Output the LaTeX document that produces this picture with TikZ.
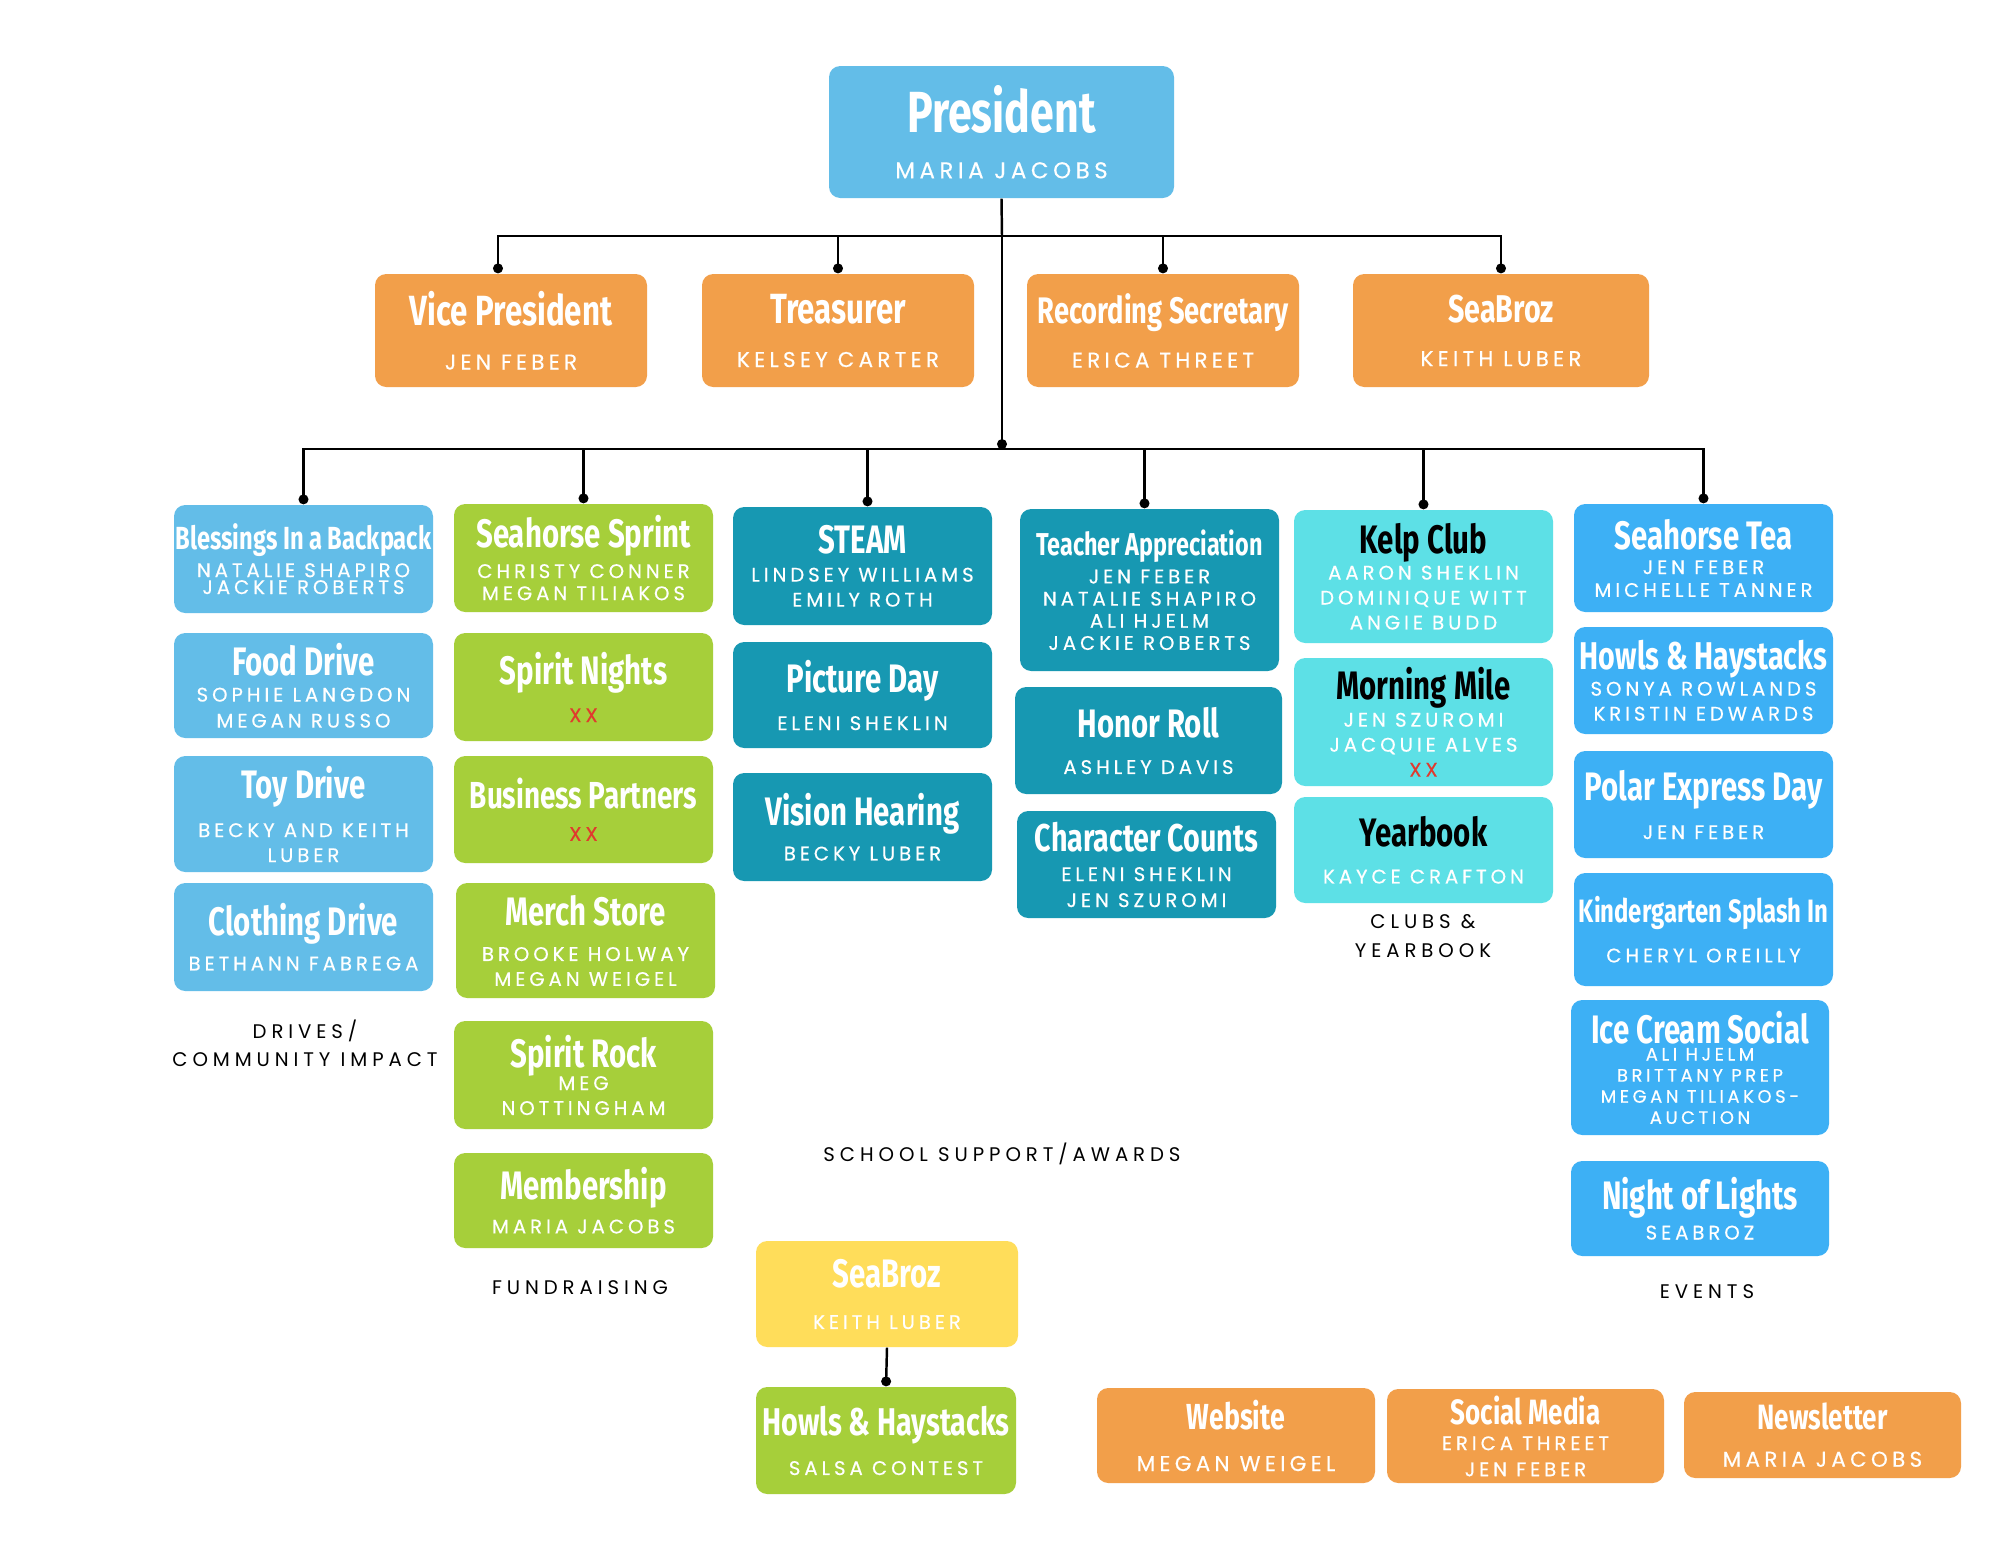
\documentclass[tikz,border=0pt]{standalone}
\usepackage{fontspec}
\usetikzlibrary{arrows.meta}
\newfontfamily\titlefont[FakeStretch=0.74]{Fira Sans}
\newfontfamily\namefont[LetterSpace=20, FakeBold=0.4]{Poppins}
\newfontfamily\labfont[LetterSpace=25]{Poppins}
\definecolor{presblue}{HTML}{63BDE8}
\definecolor{offorange}{HTML}{F29F4A}
\definecolor{drivesblue}{HTML}{63BDE8}
\definecolor{fundgreen}{HTML}{A6CF3A}
\definecolor{schoolteal}{HTML}{1798B2}
\definecolor{clubcyan}{HTML}{5DE0E6}
\definecolor{eventblue}{HTML}{3DB0F5}
\definecolor{broyellow}{HTML}{FFDD5A}
\definecolor{xxred}{HTML}{E03A2E}
\newcommand{\ttl}[2][11.3]{{\titlefont\bfseries\fontsize{#1}{#1}\selectfont #2}}
\newcommand{\xx}{\textcolor{xxred}{XX}}
\tikzset{
  card/.style={rounded corners=3.2pt, inner sep=0pt, align=center, text=white,
    font=\namefont\fontsize{5.6}{6.5}\selectfont},
  namelead/.style={font=\namefont\fontsize{5.6}{#1}\selectfont},
  boxsize/.style 2 args={minimum width=#1*0.01cm, minimum height=#2*0.01cm},
  presbox/.style={card, fill=presblue},
  officer/.style={card, fill=offorange, font=\namefont\fontsize{6.1}{6.5}\selectfont},
  drivebox/.style={card, fill=drivesblue},
  fundbox/.style={card, fill=fundgreen},
  schoolbox/.style={card, fill=schoolteal},
  clubbox/.style={card, fill=clubcyan},
  eventbox/.style={card, fill=eventblue},
  brobox/.style={card, fill=broyellow},
  conn/.style={line width=0.7pt, -{Circle[length=2.8pt]}},
  grouplabel/.style={align=center, inner sep=0pt, font=\labfont\fontsize{5.6}{8.1}\selectfont}
}
\begin{document}
\begin{tikzpicture}[x=0.01cm, y=-0.01cm]
%%%%% START %%%%%
\fill[white] (0,0) rectangle (1999,1545);

% board
\node[presbox, boxsize={345}{132}] (pres) at (1001.5,132) {\ttl[16.5]{President}\\[6.5pt] {\fontsize{6.5}{8}\selectfont MARIA JACOBS}};
\node[officer, boxsize={272}{113}] (vp) at (511,330.5) {\ttl[12]{Vice President}\\[6pt] JEN FEBER};
\node[officer, boxsize={272}{113}] (treas) at (838,330.5) {\ttl[12]{Treasurer}\\[6pt] KELSEY CARTER};
\node[officer, boxsize={272}{113}] (recsec) at (1163,330.5) {\ttl[10.5]{Recording Secretary}\\[5pt] ERICA THREET};
\node[officer, boxsize={296}{113}] (seabroz) at (1501,330.5) {\ttl[11]{SeaBroz}\\[6pt] KEITH LUBER};

% drives / community impact
\node[drivebox, boxsize={259}{108}, namelead=4.8] (blessings) at (303.5,559) {\ttl[9.1]{Blessings In a Backpack}\\[0.8pt] NATALIE SHAPIRO\\ JACKIE ROBERTS};
\node[drivebox, boxsize={259}{105}, namelead=7.4] (food) at (303.5,685.5) {\ttl{Food Drive}\\ SOPHIE LANGDON\\ MEGAN RUSSO};
\node[drivebox, boxsize={259}{116}, namelead=7.1] (toy) at (303.5,814) {\ttl{Toy Drive}\\[4pt] BECKY AND KEITH\\ LUBER};
\node[drivebox, boxsize={259}{108}] (clothing) at (303.5,937) {\ttl{Clothing Drive}\\[3.4pt] BETHANN FABREGA};
\node[grouplabel] (drivelab) at (305,1043.5) {DRIVES/\\ COMMUNITY IMPACT};

% fundraising
\node[fundbox, boxsize={259}{108}, namelead=6.3] (sprint) at (583.5,558) {\ttl{Seahorse Sprint}\\[1.1pt] CHRISTY CONNER\\ MEGAN TILIAKOS};
\node[fundbox, boxsize={259}{108}] (nights) at (583.5,687) {\ttl{Spirit Nights}\\[4.3pt] \xx};
\node[fundbox, boxsize={259}{107}] (partners) at (583.5,809.5) {\ttl[10.7]{Business Partners}\\[2.6pt] \xx};
\node[fundbox, boxsize={259}{115}, namelead=7.1] (merch) at (585.5,940.5) {\ttl{Merch Store}\\[3.1pt] BROOKE HOLWAY\\ MEGAN WEIGEL};
\node[fundbox, boxsize={259}{108}, namelead=7.1] (rock) at (583.5,1075) {\ttl{Spirit Rock}\\[-0.6pt] MEG\\ NOTTINGHAM};
\node[fundbox, boxsize={259}{95}] (member) at (583.5,1200.5) {\ttl{Membership}\\[3.1pt] MARIA JACOBS};
\node[grouplabel] (fundlab) at (580,1288) {FUNDRAISING};

% school support / awards
\node[schoolbox, boxsize={259}{118}, namelead=7.1] (steam) at (862.5,566) {\ttl{STEAM}\\[0.9pt] LINDSEY WILLIAMS\\ EMILY ROTH};
\node[schoolbox, boxsize={259}{106}] (picture) at (862.5,695) {\ttl{Picture Day}\\[4.3pt] ELENI SHEKLIN};
\node[schoolbox, boxsize={259}{108}] (vision) at (862.5,827) {\ttl{Vision Hearing}\\[3.4pt] BECKY LUBER};
\node[schoolbox, boxsize={259}{162}, namelead=6.3] (teachers) at (1149.5,590) {\ttl[9]{Teacher Appreciation}\\[1.6pt] JEN FEBER\\ NATALIE SHAPIRO\\ ALI HJELM\\ JACKIE ROBERTS};
\node[schoolbox, boxsize={267}{107}] (honor) at (1148.5,740.5) {\ttl{Honor Roll}\\[4pt] ASHLEY DAVIS};
\node[schoolbox, boxsize={259}{107}, namelead=7.4] (character) at (1146.5,864.5) {\ttl[11]{Character Counts}\\[1.1pt] ELENI SHEKLIN\\ JEN SZUROMI};
\node[grouplabel] (schoollab) at (1002,1154) {SCHOOL SUPPORT/AWARDS};

% clubs & yearbook
\node[clubbox, boxsize={259}{133}, namelead=7.1] (kelp) at (1423.5,576.5) {\ttl{\color{black}Kelp Club}\\[0.3pt] AARON SHEKLIN\\ DOMINIQUE WITT\\ ANGIE BUDD};
\node[clubbox, boxsize={259}{128}, namelead=7.1] (mile) at (1423.5,722) {\ttl{\color{black}Morning Mile}\\[0.6pt] JEN SZUROMI\\ JACQUIE ALVES\\ \xx};
\node[clubbox, boxsize={259}{106}] (yearbook) at (1423.5,850) {\ttl{\color{black}Yearbook}\\[4pt] KAYCE CRAFTON};
\node[grouplabel] (clublab) at (1423,936) {CLUBS \&\\ YEARBOOK};

% events
\node[eventbox, boxsize={259}{108}] (seatea) at (1703.5,558) {\ttl{Seahorse Tea}\\[0.6pt] JEN FEBER\\ MICHELLE TANNER};
\node[eventbox, boxsize={259}{107}, namelead=7.1] (howls) at (1703.5,680.5) {\ttl[11]{Howls \& Haystacks}\\[0.3pt] SONYA ROWLANDS\\ KRISTIN EDWARDS};
\node[eventbox, boxsize={259}{107}] (polar) at (1703.5,804.5) {\ttl{Polar Express Day}\\[4.6pt] JEN FEBER};
\node[eventbox, boxsize={259}{113}] (splash) at (1703.5,929.5) {\ttl[9.2]{Kindergarten Splash In}\\[4.8pt] CHERYL OREILLY};
\node[eventbox, boxsize={258}{135}, font=\namefont\fontsize{5.1}{6}\selectfont] (icecream) at (1700,1067.5) {\ttl{Ice Cream Social}\\[-1.1pt] ALI HJELM\\ BRITTANY PREP\\ MEGAN TILIAKOS-\\ AUCTION};
\node[eventbox, boxsize={258}{95}] (lights) at (1700,1208.5) {\ttl{Night of Lights}\\[2pt] SEABROZ};
\node[grouplabel] (eventlab) at (1707,1292) {EVENTS};

% seabroz + communications
\node[brobox, boxsize={262}{106}] (brozb) at (887,1294) {\ttl{SeaBroz}\\[5.4pt] KEITH LUBER};
\node[fundbox, boxsize={260}{107}] (howlsb) at (886,1440.5) {\ttl[11]{Howls \& Haystacks}\\[4.8pt] SALSA CONTEST};
\node[officer, boxsize={278}{95}] (website) at (1236,1435.5) {\ttl[10.3]{Website}\\[5.4pt] MEGAN WEIGEL};
\node[officer, boxsize={277}{94}, namelead=7.4] (social) at (1525.5,1436) {\ttl[10]{Social Media}\\ ERICA THREET\\ JEN FEBER};
\node[officer, boxsize={277}{86}] (newsletter) at (1822.5,1435) {\ttl[10]{Newsletter}\\[4pt] MARIA JACOBS};

% connectors
\coordinate (hubA) at (1002,236);
\coordinate (hubB) at (1002,449);
\draw[line width=0.7pt] (pres.south) -- (hubA);
\draw[conn] (hubA) -| ([xshift=-0.13cm]vp.north);
\foreach \n in {treas,recsec,seabroz}
  \draw[conn] (hubA) -| (\n.north);
\draw[conn] (hubA) -- (hubB);
\foreach \n in {blessings,sprint,kelp,seatea}
  \draw[conn] (hubB) -| (\n.north);
\draw[conn] (hubB) -| ([xshift=0.05cm]steam.north);
\draw[conn] (hubB) -| ([xshift=-0.05cm]teachers.north);
\draw[conn] (brozb.south) -- (howlsb.north);
%%%%% END %%%%%
\end{tikzpicture}
\end{document}
